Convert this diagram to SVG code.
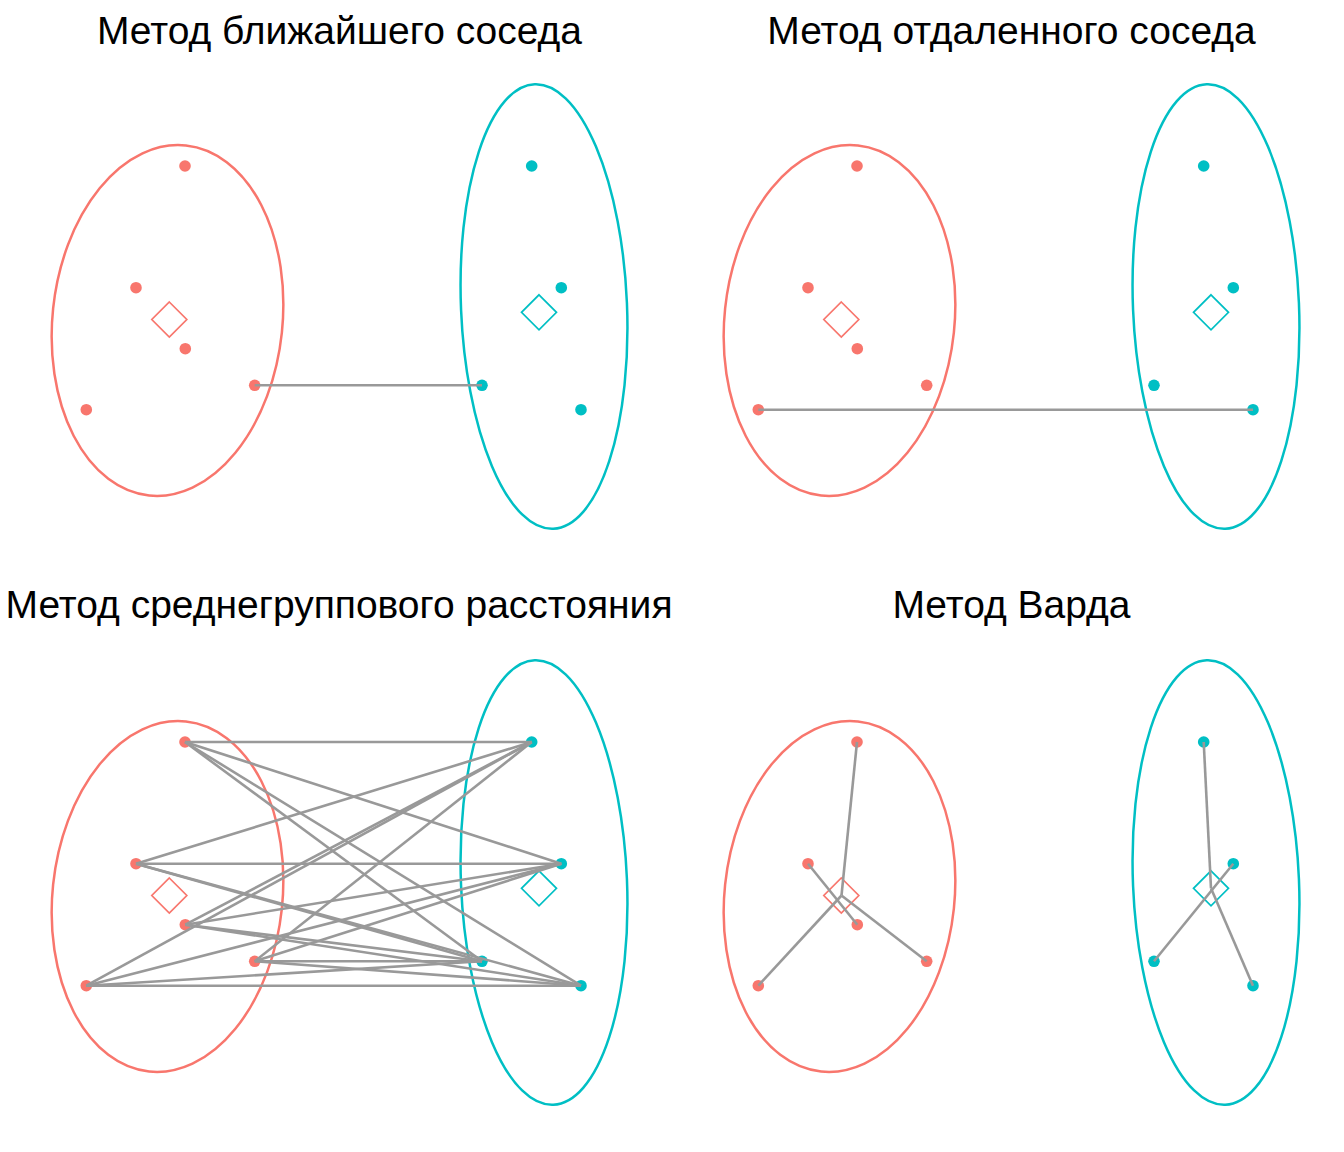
<svg xmlns="http://www.w3.org/2000/svg" xmlns:xlink="http://www.w3.org/1999/xlink" width="1344" height="1152" viewBox="0 0 1344 1152">
<style>
.title{font-family:"Liberation Sans",Arial,sans-serif;font-size:39px;fill:#000;text-anchor:middle}
.er{fill:none;stroke:#F8766D;stroke-width:2.5}
.ec{fill:none;stroke:#00BFC4;stroke-width:2.5}
.pr{fill:#F8766D}
.pc{fill:#00BFC4}
.dr{fill:none;stroke:#F8766D;stroke-width:1.7}
.dc{fill:none;stroke:#00BFC4;stroke-width:1.7}
.ln{stroke:#999999;stroke-width:2.6;fill:none;stroke-linecap:butt}
</style>
<defs>
<g id="clusters">
<g id="cluster-red">
<ellipse class="er" cx="0" cy="0" rx="115" ry="176" transform="translate(167.5,320.5) rotate(6)"/>
<circle class="pr" cx="185" cy="166" r="5.8"/>
<circle class="pr" cx="136" cy="287.7" r="5.8"/>
<circle class="pr" cx="185.3" cy="348.7" r="5.8"/>
<circle class="pr" cx="254.7" cy="385.3" r="5.8"/>
<circle class="pr" cx="86.3" cy="409.7" r="5.8"/>
<path class="dr" d="M169.3,302 L186.8,319.5 L169.3,337 L151.8,319.5 Z"/>
</g>
<g id="cluster-cyan">
<ellipse class="ec" cx="0" cy="0" rx="83" ry="222.5" transform="translate(544,306.5) rotate(-2.4)"/>
<circle class="pc" cx="531.7" cy="166" r="5.8"/>
<circle class="pc" cx="561.3" cy="287.7" r="5.8"/>
<circle class="pc" cx="482" cy="385.3" r="5.8"/>
<circle class="pc" cx="581" cy="409.7" r="5.8"/>
<path class="dc" d="M539,294.8 L556.5,312.3 L539,329.8 L521.5,312.3 Z"/>
</g>
</g>
</defs>

<g id="panel-single">
<text class="title" x="339.5" y="44.3">Метод ближайшего соседа</text>
<use xlink:href="#clusters"/>
</g>
<g id="panel-complete" transform="translate(672,0)">
<text class="title" x="339.5" y="44.3">Метод отдаленного соседа</text>
<use xlink:href="#clusters"/>
</g>
<g id="panel-average" transform="translate(0,576)">
<text class="title" x="339" y="42">Метод среднегруппового расстояния</text>
<use xlink:href="#clusters"/>
</g>
<g id="panel-ward" transform="translate(672,576)">
<text class="title" x="339.5" y="42">Метод Варда</text>
<use xlink:href="#clusters"/>
</g>

<g id="connectors">
<g id="conn-single">
<line class="ln" x1="254.7" y1="385.3" x2="482" y2="385.3"/>
</g>
<g id="conn-complete" transform="translate(672,0)">
<line class="ln" x1="86.3" y1="409.7" x2="581" y2="409.7"/>
</g>
<g id="conn-average" transform="translate(0,576)">
<line class="ln" x1="185" y1="166" x2="531.7" y2="166"/>
<line class="ln" x1="185" y1="166" x2="561.3" y2="287.7"/>
<line class="ln" x1="185" y1="166" x2="482" y2="385.3"/>
<line class="ln" x1="185" y1="166" x2="581" y2="409.7"/>
<line class="ln" x1="136" y1="287.7" x2="531.7" y2="166"/>
<line class="ln" x1="136" y1="287.7" x2="561.3" y2="287.7"/>
<line class="ln" x1="136" y1="287.7" x2="482" y2="385.3"/>
<line class="ln" x1="136" y1="287.7" x2="581" y2="409.7"/>
<line class="ln" x1="185.3" y1="348.7" x2="531.7" y2="166"/>
<line class="ln" x1="185.3" y1="348.7" x2="561.3" y2="287.7"/>
<line class="ln" x1="185.3" y1="348.7" x2="482" y2="385.3"/>
<line class="ln" x1="185.3" y1="348.7" x2="581" y2="409.7"/>
<line class="ln" x1="254.7" y1="385.3" x2="531.7" y2="166"/>
<line class="ln" x1="254.7" y1="385.3" x2="561.3" y2="287.7"/>
<line class="ln" x1="254.7" y1="385.3" x2="482" y2="385.3"/>
<line class="ln" x1="254.7" y1="385.3" x2="581" y2="409.7"/>
<line class="ln" x1="86.3" y1="409.7" x2="531.7" y2="166"/>
<line class="ln" x1="86.3" y1="409.7" x2="561.3" y2="287.7"/>
<line class="ln" x1="86.3" y1="409.7" x2="482" y2="385.3"/>
<line class="ln" x1="86.3" y1="409.7" x2="581" y2="409.7"/>
</g>
<g id="conn-ward" transform="translate(672,0)">
<line class="ln" x1="185" y1="742" x2="169.5" y2="895.5"/>
<line class="ln" x1="136" y1="863.7" x2="185.3" y2="924.7"/>
<line class="ln" x1="86.3" y1="985.7" x2="169.5" y2="895.5"/>
<line class="ln" x1="169.5" y1="895.5" x2="254.7" y2="961.3"/>
<line class="ln" x1="531.7" y1="742" x2="539" y2="888.3"/>
<line class="ln" x1="539" y1="888.3" x2="581" y2="985.7"/>
<line class="ln" x1="482" y1="961.3" x2="561.3" y2="863.7"/>
</g>
</g>
</svg>
